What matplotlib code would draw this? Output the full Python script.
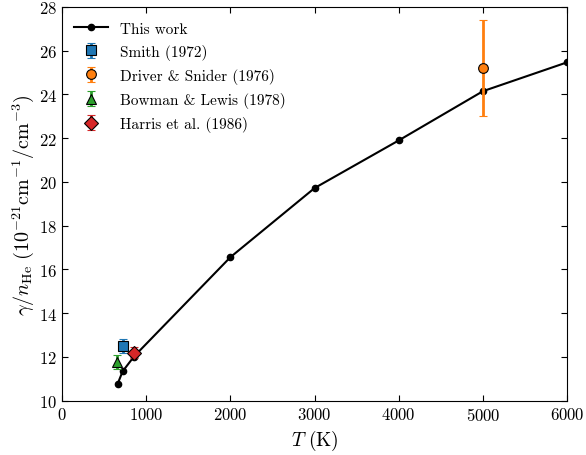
import numpy as np
import matplotlib
matplotlib.use("Agg")
import matplotlib.pyplot as plt

plt.rcParams['font.family'] = 'serif'
plt.rcParams['font.serif'] = ['cmr10', 'DejaVu Serif']
plt.rcParams['mathtext.fontset'] = 'cm'
plt.rcParams['axes.unicode_minus'] = False
plt.rcParams['axes.formatter.use_mathtext'] = True

# This work
T_work = [660, 720, 855, 2000, 3000, 4000, 5000, 6000]
g_work = [10.76, 11.34, 12.02, 16.56, 19.72, 21.9, 24.15, 25.47]

# measurements
smith_T, smith_g, smith_err = [720], [12.5], [0.32]
driver_T, driver_g, driver_err = [5000], [25.2], [2.2]
bowman_T, bowman_g, bowman_err = [655], [11.78], [0.32]
harris_T, harris_g, harris_err = [850], [12.2], [0.25]

fig = plt.figure(figsize=(5.86, 4.56), dpi=100)
ax = fig.add_axes([0.1058, 0.1191, 0.862, 0.8634])

ax.plot(T_work, g_work, '-o', color='black', lw=1.5, ms=4.5, label='This work', zorder=3)

kw = dict(ls='none', mec='black', mew=0.8, elinewidth=2, capsize=3, capthick=2, zorder=4)
ax.errorbar(smith_T, smith_g, yerr=smith_err, fmt='s', ms=7, color='tab:blue',
            mfc='tab:blue', label='Smith (1972)', **kw)
ax.errorbar(driver_T, driver_g, yerr=driver_err, fmt='o', ms=7, color='tab:orange',
            mfc='tab:orange', label='Driver & Snider (1976)', **kw)
ax.errorbar(bowman_T, bowman_g, yerr=bowman_err, fmt='^', ms=7, color='tab:green',
            mfc='tab:green', label='Bowman & Lewis (1978)', **kw)
ax.errorbar(harris_T, harris_g, yerr=harris_err, fmt='D', ms=7, color='tab:red',
            mfc='tab:red', label='Harris et al. (1986)', **kw)

ax.set_xlim(0, 6000)
ax.set_ylim(10, 28)
ax.set_xticks(np.arange(0, 6001, 1000))
ax.set_yticks(np.arange(10, 29, 2))
ax.tick_params(direction='in', top=True, right=True, labelsize=12, length=4)

ax.set_xlabel(r'$T\ (\mathrm{K})$', fontsize=14)
ax.set_ylabel(r'$\gamma/n_{\mathrm{He}}\ (10^{-21}\mathrm{cm}^{-1}/\mathrm{cm}^{-3})$',
              fontsize=14.5, labelpad=2)

ax.legend(loc='upper left', frameon=False, fontsize=11, numpoints=1,
          handlelength=2.2, labelspacing=0.53, borderaxespad=0.5,
          bbox_to_anchor=(-0.003, 0.997))

fig.savefig('out.png', dpi=100)
